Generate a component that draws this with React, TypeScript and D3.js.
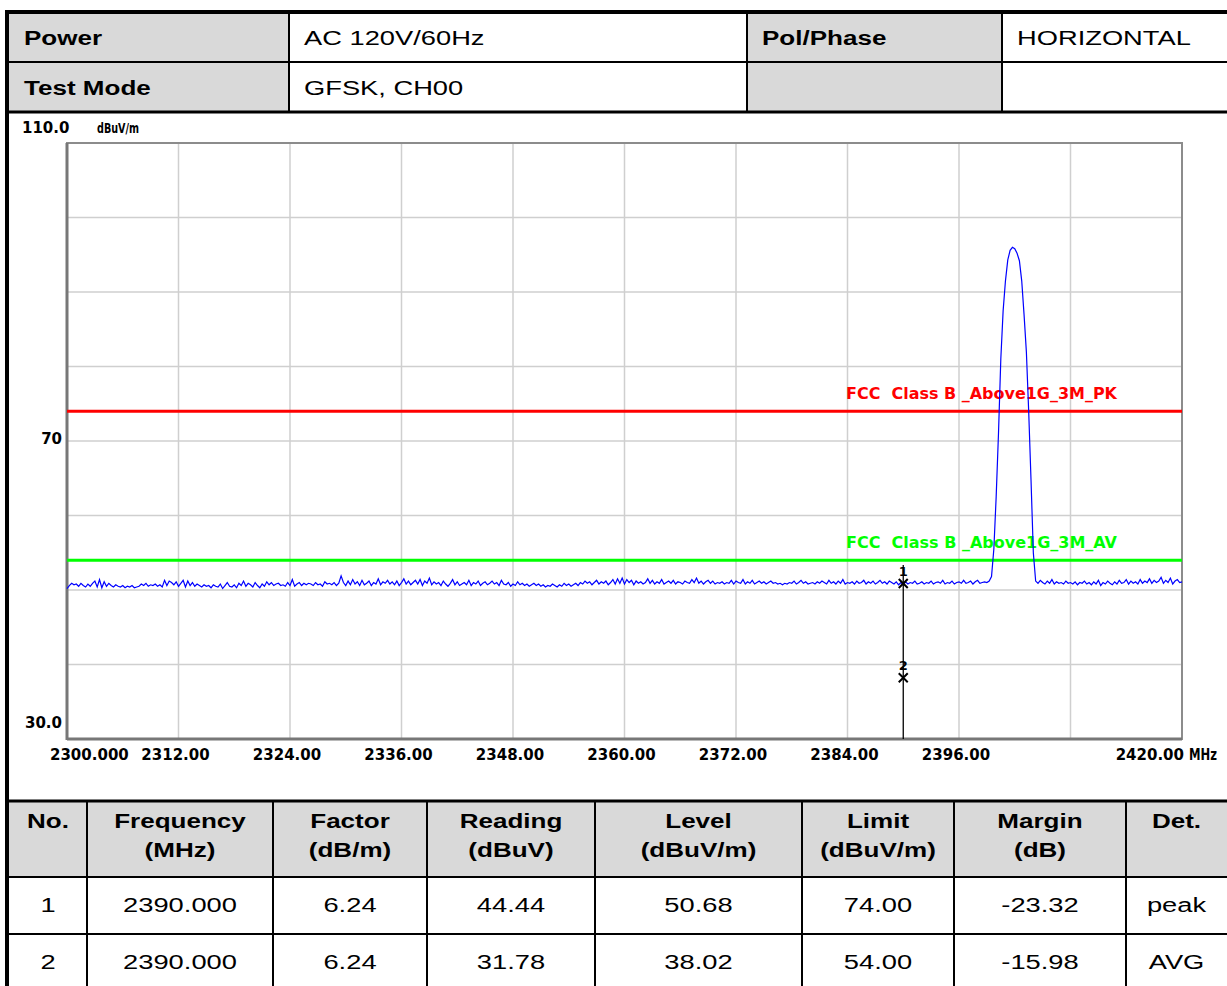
import React from 'react';
import * as d3 from 'd3';

// header table
const headerRows = [
  ['Power', 'AC 120V/60Hz', 'Pol/Phase', 'HORIZONTAL'],
  ['Test Mode', 'GFSK, CH00', '', ''],
];

// sweep: start freq + step (MHz), levels in dBuV/m
const sweepStart = 2300;
const sweepStep = 0.25;
const levels = [
  50.2, 50.6, 50.9, 50.7, 50.8, 50.5, 50.9, 50.6, 50.4, 50.8, 50.5, 50.9, 51.2, 50.4, 51.4, 50.3, 51.1, 50.5, 50.9, 50.6,
  50.4, 50.7, 50.5, 50.4, 50.6, 50.3, 50.5, 50.4, 50.6, 50.3, 50.4, 50.5, 50.8, 50.6, 50.9, 50.5, 50.7, 50.6, 50.8, 50.5,
  50.7, 50.4, 51.3, 50.6, 51.2, 51.0, 50.7, 51.1, 50.5, 50.9, 51.3, 50.4, 51.2, 50.6, 51.0, 50.5, 50.8, 50.6, 50.4, 50.7,
  50.5, 50.6, 50.3, 50.7, 50.5, 50.4, 50.8, 50.2, 50.6, 51.0, 50.5, 50.4, 50.7, 50.3, 50.9, 50.6, 51.2, 50.5, 50.9, 50.7,
  50.4, 51.0, 50.6, 50.3, 50.8, 50.5, 51.1, 50.7, 51.0, 50.6, 50.8, 50.9, 50.6, 50.7, 50.5, 51.0, 50.6, 51.4, 50.5, 50.8,
  51.0, 50.6, 50.9, 50.7, 50.9, 50.8, 50.6, 51.0, 50.7, 50.8, 50.5, 51.1, 50.8, 50.9, 50.7, 51.0, 50.6, 50.9, 51.9, 51.0,
  50.6, 51.2, 50.7, 51.4, 50.8, 51.1, 50.6, 51.3, 50.7, 50.9, 51.2, 50.6, 51.0, 50.8, 51.5, 50.7, 51.1, 50.9, 51.3, 50.8,
  51.1, 50.7, 51.2, 50.6, 51.0, 51.5, 50.8, 51.2, 50.7, 51.0, 51.3, 50.8, 51.4, 50.6, 51.2, 50.9, 51.6, 50.7, 51.1, 50.8,
  51.0, 50.6, 51.2, 50.8, 50.5, 50.9, 51.4, 50.7, 51.1, 50.6, 50.8, 51.0, 50.7, 51.3, 50.6, 51.0, 50.8, 51.2, 50.6, 50.9,
  51.1, 50.7, 50.9, 51.2, 50.8, 51.0, 50.6, 51.3, 50.8, 50.7, 51.0, 50.5, 50.8, 50.6, 51.1, 50.7, 50.9, 50.6, 50.8, 50.5,
  50.7, 50.9, 50.6, 50.8, 50.5, 50.7, 50.4, 50.6, 50.5, 50.8, 50.6, 50.4, 50.7, 50.5, 50.9, 50.6, 50.8, 50.5, 50.7, 50.9,
  50.6, 51.0, 50.8, 51.2, 50.9, 51.1, 50.7, 51.0, 51.3, 50.8, 51.1, 50.9, 51.2, 50.7, 51.0, 51.4, 50.8, 51.5, 50.9, 51.6,
  50.8, 51.4, 51.0, 51.3, 50.7, 51.2, 50.9, 51.1, 50.8, 51.0, 51.5, 50.9, 51.3, 50.8, 51.1, 50.9, 51.4, 50.8, 51.0, 51.2,
  50.9, 51.3, 50.8, 51.1, 51.0, 50.8, 51.2, 51.0, 50.9, 51.4, 51.0, 51.6, 50.9, 51.2, 50.8, 51.1, 51.3, 50.9, 51.2, 50.8,
  51.0, 50.9, 51.1, 50.8, 51.0, 50.9, 51.3, 50.8, 51.2, 51.0, 50.9, 51.4, 50.8, 51.1, 50.9, 51.3, 50.8, 51.0, 51.2, 50.9,
  51.1, 50.8, 51.0, 51.2, 50.9, 51.0, 50.8, 50.9, 50.7, 50.9, 50.8, 51.0, 50.9, 51.2, 50.8, 51.0, 51.3, 50.9, 51.1, 50.8,
  50.9, 51.0, 50.8, 51.1, 50.9, 51.2, 51.0, 50.8, 51.3, 50.9, 51.1, 50.8, 51.2, 50.9, 51.4, 50.8, 51.0, 50.9, 51.1, 50.8,
  51.2, 50.9, 51.0, 51.3, 50.8, 51.1, 50.9, 51.2, 50.8, 51.0, 51.3, 50.9, 51.1, 50.8, 51.2, 51.0, 50.8, 51.1, 50.7, 51.0,
  50.7, 51.1, 50.8, 51.0, 50.9, 51.2, 50.8, 50.9, 51.1, 50.8, 51.0, 50.9, 51.2, 50.8, 51.0, 51.1, 50.9, 51.3, 50.8, 51.0,
  50.9, 51.2, 50.8, 51.0, 51.1, 50.9, 51.3, 50.9, 51.0, 51.2, 50.8, 51.1, 51.3, 50.9, 51.0, 51.1, 51.0, 51.2, 51.8, 55.5,
  62.5, 71.0, 81.0, 87.5, 91.5, 94.3, 95.6, 96.0, 95.8, 95.2, 94.2, 91.5, 87.0, 82.0, 74.0, 64.8, 55.0, 51.2, 50.9, 51.3,
  51.0, 50.8, 51.2, 50.9, 51.4, 50.8, 51.1, 50.9, 51.0, 50.8, 51.2, 50.9, 51.0, 50.8, 51.1, 50.7, 51.0, 50.9, 51.2, 50.8,
  51.0, 50.7, 51.1, 50.8, 51.3, 50.6, 51.0, 50.8, 51.2, 50.9, 50.7, 51.1, 50.8, 51.3, 50.9, 51.0, 51.4, 50.8, 51.2, 50.9,
  51.1, 50.8, 51.4, 50.9, 51.2, 51.0, 51.5, 50.9, 51.3, 51.0, 51.2, 51.7, 50.9, 51.3, 51.0, 51.6, 50.8, 51.2, 51.4, 51.0,
  51.1,
];

const xTicks = [2300, 2312, 2324, 2336, 2348, 2360, 2372, 2384, 2396, 2408, 2420];
const xTickLabels = ['2300.000', '2312.00', '2324.00', '2336.00', '2348.00', '2360.00', '2372.00', '2384.00', '2396.00', '', '2420.00'];
const yTicks = [30, 40, 50, 60, 70, 80, 90, 100, 110];
const yLabels = [{ v: 110, t: '110.0' }, { v: 70, t: '70' }, { v: 30, t: '30.0' }];

const limitPK = 74;
const limitAV = 54;
const limitPKName = 'FCC  Class B _Above1G_3M_PK';
const limitAVName = 'FCC  Class B _Above1G_3M_AV';

const markerNo = [1, 2];
const markerFreq = [2390, 2390];
const markerLevel = [50.68, 38.02];

// result table
const resultHead = [['No.'], ['Frequency', '(MHz)'], ['Factor', '(dB/m)'], ['Reading', '(dBuV)'], ['Level', '(dBuV/m)'], ['Limit', '(dBuV/m)'], ['Margin', '(dB)'], ['Det.']];
const resultRows = [
  ['1', '2390.000', '6.24', '44.44', '50.68', '74.00', '-23.32', 'peak'],
  ['2', '2390.000', '6.24', '31.78', '38.02', '54.00', '-15.98', 'AVG'],
];

const W = 1227;
const H = 986;
const plot = { left: 67, right: 1182, top: 143, bottom: 739 };

const tf = '"Liberation Sans", Arial, sans-serif';
const cf = '"DejaVu Sans", sans-serif';

// table text is drawn a bit wide, like the source page
const TText = ({ x, y, s, bold, anchor }: { x: number; y: number; s: string; bold?: boolean; anchor?: string }) => (
  <text
    transform={`translate(${x},${y}) scale(${bold ? 1.24 : 1.3},1)`}
    textAnchor={anchor || 'start'}
    fontFamily={tf}
    fontSize={21}
    fontWeight={bold ? 'bold' : 'normal'}
    fill="#000"
  >{s}</text>
);

const App = () => {
  const x = d3.scaleLinear().domain([2300, 2420]).range([plot.left, plot.right]);
  const y = d3.scaleLinear().domain([30, 110]).range([plot.bottom, plot.top]);

  const trace = levels.map((v, i) => [sweepStart + i * sweepStep, v] as [number, number]);
  const line = d3.line<[number, number]>().x(d => x(d[0])).y(d => y(d[1]));

  const topCols = [9, 289, 747, 1002, W];
  const topRows = [12, 62, 112];
  const botCols = [9, 87, 273, 427, 595, 802, 954, 1126, W];
  const botRows = [801, 877, 934, H];

  return (
    <svg width={W} height={H} style={{ position: 'absolute', left: 0, top: 0, background: '#fff' }}>
      <rect x={0} y={0} width={W} height={H} fill="#fff" />

      {/* header table */}
      {headerRows.map((row, r) =>
        row.map((c, i) => (
          <rect key={`hc${r}${i}`} x={topCols[i]} y={topRows[r]} width={topCols[i + 1] - topCols[i]} height={topRows[r + 1] - topRows[r]}
            fill={i % 2 === 0 ? '#d9d9d9' : '#fff'} />
        ))
      )}
      {headerRows.map((row, r) =>
        row.map((c, i) => c ? (
          <TText key={`ht${r}${i}`} x={topCols[i] + 15} y={topRows[r] + 33} s={c} bold={i % 2 === 0} />
        ) : null)
      )}
      <line x1={5} x2={W} y1={topRows[0]} y2={topRows[0]} stroke="#000" strokeWidth={4} />
      <line x1={5} x2={W} y1={topRows[1]} y2={topRows[1]} stroke="#000" strokeWidth={2} />
      <line x1={5} x2={W} y1={topRows[2]} y2={topRows[2]} stroke="#000" strokeWidth={3} />
      {topCols.slice(1, -1).map(c => (
        <line key={`tc${c}`} x1={c} x2={c} y1={topRows[0]} y2={topRows[2]} stroke="#000" strokeWidth={2} />
      ))}

      {/* chart */}
      {yTicks.map(v => (
        <line key={`gy${v}`} x1={plot.left} x2={plot.right} y1={y(v)} y2={y(v)} stroke="#cfcfcf" strokeWidth={1.5} />
      ))}
      {xTicks.map(v => (
        <line key={`gx${v}`} x1={x(v)} x2={x(v)} y1={plot.top} y2={plot.bottom} stroke="#cfcfcf" strokeWidth={1.5} />
      ))}
      <rect x={plot.left} y={plot.top} width={plot.right - plot.left} height={plot.bottom - plot.top} fill="none" stroke="#8c8c8c" strokeWidth={2} />
      <line x1={plot.left} x2={plot.left} y1={plot.top} y2={plot.bottom + 1} stroke="#777" strokeWidth={3} />
      <line x1={plot.left} x2={plot.right} y1={plot.bottom} y2={plot.bottom} stroke="#777" strokeWidth={3} />

      {yLabels.map(d => (
        <text key={`yl${d.v}`} x={d.v === 110 ? 22 : 62} y={d.v === 70 ? y(d.v) + 3 : d.v === 110 ? y(d.v) - 10 : y(d.v) - 11}
          textAnchor={d.v === 110 ? 'start' : 'end'} fontFamily={cf} fontWeight="bold" fontSize={15} fill="#000">{d.t}</text>
      ))}
      <text x={97} y={y(110) - 10} fontFamily={cf} fontWeight="bold" fontSize={14} textLength={42} lengthAdjust="spacingAndGlyphs" fill="#000">dBuV/m</text>

      {xTicks.map((v, i) => xTickLabels[i] ? (
        <text key={`xl${v}`}
          x={i === 0 ? 50 : i === xTicks.length - 1 ? 1184 : x(v) - 3}
          y={plot.bottom + 21}
          textAnchor={i === 0 ? 'start' : i === xTicks.length - 1 ? 'end' : 'middle'}
          fontFamily={cf} fontWeight="bold" fontSize={15} fill="#000">{xTickLabels[i]}</text>
      ) : null)}
      <text x={1189} y={plot.bottom + 21} fontFamily={cf} fontWeight="bold" fontSize={15} textLength={28} lengthAdjust="spacingAndGlyphs" fill="#000">MHz</text>

      {/* limits */}
      <line x1={plot.left} x2={plot.right} y1={y(limitPK)} y2={y(limitPK)} stroke="#ff0000" strokeWidth={3} />
      <line x1={plot.left} x2={plot.right} y1={y(limitAV)} y2={y(limitAV)} stroke="#00ff00" strokeWidth={3} />
      <text x={846} y={y(limitPK) - 12} fontFamily={cf} fontWeight="bold" fontSize={15} fill="#ff0000"
        textLength={271} lengthAdjust="spacingAndGlyphs" style={{ whiteSpace: 'pre' }}>{limitPKName}</text>
      <text x={846} y={y(limitAV) - 12} fontFamily={cf} fontWeight="bold" fontSize={15} fill="#00ff00"
        textLength={271} lengthAdjust="spacingAndGlyphs" style={{ whiteSpace: 'pre' }}>{limitAVName}</text>

      {/* trace */}
      <path d={line(trace) || ''} fill="none" stroke="#0000ff" strokeWidth={1.2} />

      {/* markers */}
      <line x1={x(markerFreq[0])} x2={x(markerFreq[0])} y1={y(d3.max(markerLevel) as number) - 20} y2={plot.bottom} stroke="#000" strokeWidth={1.3} />
      {markerNo.map((n, i) => {
        const mx = x(markerFreq[i]);
        const my = y(markerLevel[i]);
        return (
          <g key={`m${n}`}>
            <path d={`M${mx - 4.5},${my - 6}L${mx + 4.5},${my + 3}M${mx + 4.5},${my - 6}L${mx - 4.5},${my + 3}`} stroke="#000" strokeWidth={2} />
            <text x={mx} y={my - 9} textAnchor="middle" fontFamily={cf} fontWeight="bold" fontSize={13} fill="#000">{n}</text>
          </g>
        );
      })}

      {/* result table */}
      {resultHead.map((h, i) => (
        <rect key={`rh${i}`} x={botCols[i]} y={botRows[0]} width={botCols[i + 1] - botCols[i]} height={botRows[1] - botRows[0]} fill="#d9d9d9" />
      ))}
      {resultHead.map((h, i) => h.map((s, k) => (
        <TText key={`rht${i}${k}`} x={(botCols[i] + botCols[i + 1]) / 2} y={botRows[0] + 27 + k * 29} s={s} bold anchor="middle" />
      )))}
      {resultRows.map((row, r) => row.map((s, i) => (
        <TText key={`rr${r}${i}`} x={(botCols[i] + botCols[i + 1]) / 2} y={botRows[r + 1] + 35} s={s} anchor="middle" />
      )))}
      {botRows.slice(0, 3).map((rv, k) => (
        <line key={`br${k}`} x1={5} x2={W} y1={rv} y2={rv} stroke="#000" strokeWidth={k === 0 ? 3 : 2} />
      ))}
      {botCols.slice(1, -1).map(c => (
        <line key={`bc${c}`} x1={c} x2={c} y1={botRows[0]} y2={H} stroke="#000" strokeWidth={2} />
      ))}

      {/* page left border */}
      <line x1={7} x2={7} y1={10} y2={H} stroke="#000" strokeWidth={4} />
    </svg>
  );
};

export default App;
